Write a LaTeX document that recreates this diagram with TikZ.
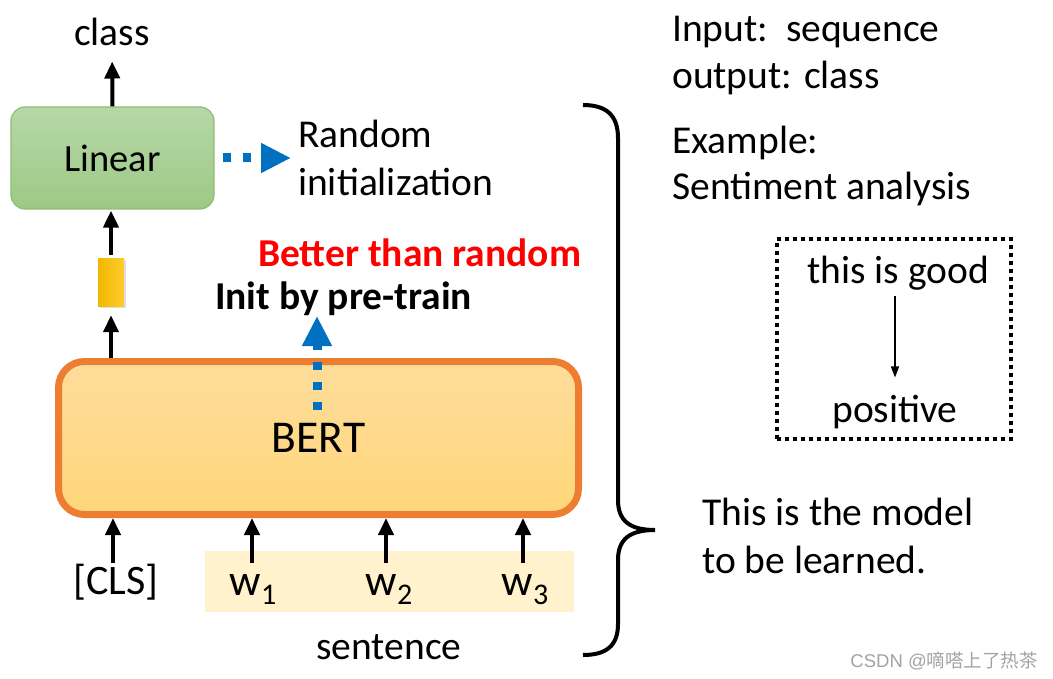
\documentclass[tikz,border=0pt]{standalone}
\usepackage{fontspec}
\setmainfont{Carlito}
\newfontfamily\wmfont{Liberation Sans}
\newfontfamily\cjkfont{Noto Sans CJK SC}
\usetikzlibrary{arrows.meta,shadows}
\definecolor{bluec}{HTML}{0070C0}
\definecolor{orangeb}{HTML}{ED7D31}
\definecolor{berttop}{HTML}{FEDD9B}
\definecolor{bertbot}{HTML}{FFD679}
\definecolor{lintop}{HTML}{B6D7A8}
\definecolor{linbot}{HTML}{9DC985}
\definecolor{linbd}{HTML}{8CBF72}
\definecolor{goldl}{HTML}{F2B800}
\definecolor{goldr}{HTML}{FFCB2E}
\definecolor{sentbg}{HTML}{FFF2CC}
\definecolor{redc}{HTML}{FF0000}
\definecolor{wmgray}{HTML}{A3A3A3}
\begin{document}
\begin{tikzpicture}[x=1pt,y=-1pt,
  txt/.style={inner sep=0pt, font=\fontsize{39.5}{47}\selectfont},
  blk/.style={line width=4pt, -{Triangle[width=15pt,length=17pt]}},
  blu/.style={line width=9pt, draw=bluec, dash pattern=on 8.5pt off 11.5pt, -{Triangle[width=28pt,length=30pt]}},
  thin/.style={line width=1.5pt, -{Triangle[width=8pt,length=11pt]}}
]
\useasboundingbox (0,0) rectangle (1053,679);

% Linear box
\node[draw=linbd, line width=1.2pt, rounded corners=14pt, top color=lintop, bottom color=linbot,
      minimum width=203pt, minimum height=102pt, inner sep=0pt, font=\fontsize{38.5}{46}\selectfont] (lin) at (112.5,158) {Linear};
\node[txt, anchor=base] (cls) at (112,46) {class};

% vector
\node[minimum width=26pt, minimum height=48pt, inner sep=0pt, left color=goldl, right color=goldr,
      drop shadow={opacity=0.25, shadow xshift=1.5pt, shadow yshift=-1.5pt}] (vec) at (111,283) {};

% BERT
\node[draw=orangeb, line width=7pt, rounded corners=26pt, top color=berttop, bottom color=bertbot,
      minimum width=520pt, minimum height=153pt, inner sep=0pt, font=\fontsize{45.5}{52}\selectfont] (bert) at (318.5,438) {BERT};

% sentence background
\node[fill=sentbg, minimum width=369pt, minimum height=61pt, inner sep=0pt] (sbg) at (389.5,581.5) {};

% texts
\node[txt, anchor=base west] (rnd1) at (298,148) {Random};
\node[txt, anchor=base west] (rnd2) at (298,196) {initialization};
\coordinate (rndpt) at (291,158);
\node[txt, anchor=base west, text=redc, font=\bfseries\fontsize{39.5}{47}\selectfont] (better) at (258,267) {Better than random};
\node[txt, anchor=base west, font=\bfseries\fontsize{39.5}{47}\selectfont] (init) at (215,309) {Init by pre-train};
\coordinate (initpt) at (317,316);
\coordinate (bertin) at (317,410);

\node[txt, anchor=base, font=\fontsize{42}{50}\selectfont] (tcls) at (116,594) {[CLS]};
\node[txt, anchor=base, font=\fontsize{44}{50}\selectfont] (w1) at (253,595) {w\raisebox{-9pt}{\fontsize{30}{30}\selectfont 1}};
\node[txt, anchor=base, font=\fontsize{44}{50}\selectfont] (w2) at (389,595) {w\raisebox{-9pt}{\fontsize{30}{30}\selectfont 2}};
\node[txt, anchor=base, font=\fontsize{44}{50}\selectfont] (w3) at (525,595) {w\raisebox{-9pt}{\fontsize{30}{30}\selectfont 3}};
\coordinate (a0) at (113,563);
\coordinate (a1) at (252,563);
\coordinate (a2) at (386,563);
\coordinate (a3) at (523,563);
\node[txt, anchor=base] (sent) at (389,659) {sentence};

% black arrows
\draw[blk, shorten >=15pt] (lin.north) -- (cls.south);
\draw[blk, shorten <=4pt, shorten >=1pt] (vec.north) -- (vec.north |- lin.south);
\draw[blk, shorten >=8pt] (vec.south |- bert.north) -- (vec.south);
\draw[blk] (a0) -- (a0 |- bert.south);
\draw[blk] (a1) -- (a1 |- bert.south);
\draw[blk] (a2) -- (a2 |- bert.south);
\draw[blk] (a3) -- (a3 |- bert.south);

% blue dotted arrows
\draw[blu] ([xshift=8pt]lin.east) -- (rndpt);
\draw[blu] (bertin) -- (initpt);

% brace
\draw[line width=4pt] (583,105) .. controls (606,105) and (618,115) .. (618,138) -- (618,500)
   .. controls (618,521) and (630,530) .. (655,530) .. controls (630,530) and (618,539) .. (618,560)
   -- (618,624) .. controls (618,646) and (606,655) .. (583,655);

% right texts
\node[txt, anchor=base west] (inp) at (672,42) {Input:\ \ sequence};
\node[txt, anchor=base west] (outp) at (672,89) {output: class};
\node[txt, anchor=base west] (exa) at (672,154) {Example:};
\node[txt, anchor=base west] (senti) at (672,200) {Sentiment analysis};

\node[draw, line width=4pt, dash pattern=on 4pt off 4pt, minimum width=234pt, minimum height=200pt, inner sep=0pt] (ex) at (894,339) {};
\node[txt, anchor=base] (good) at (898,284) {this is good};
\node[txt, anchor=base] (pos) at (895,422) {positive};
\draw[thin, shorten <=5pt, shorten >=17pt] (good.south -| pos.north) -- (pos.north);

\node[txt, anchor=base west] (mod1) at (702,525) {This is the model};
\node[txt, anchor=base west] (mod2) at (702,573) {to be learned.};

\node[anchor=base east, inner sep=0pt, text=wmgray, font=\wmfont\fontsize{18.5}{18.5}\selectfont] (wm) at (1038,667) {CSDN @{\cjkfont 嘀嗒上了热茶}};
\end{tikzpicture}
\end{document}
